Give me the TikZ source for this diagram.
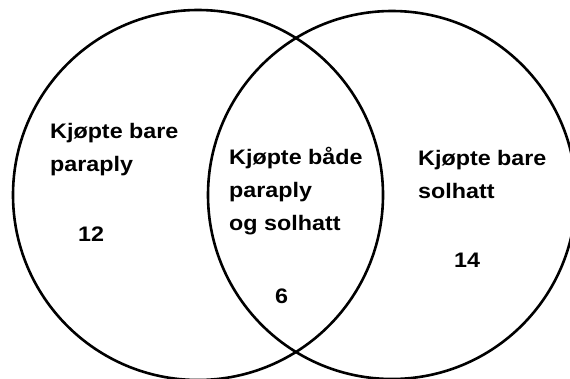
\documentclass[tikz,border=0pt]{standalone}
\usepackage{fontspec}
\setmainfont{Liberation Sans}[FakeStretch=1.11]
\begin{document}
\begin{tikzpicture}[x=1bp,y=-1bp,
  setring/.style={line width=2.6bp,draw=black},
  lbl/.style={anchor=base west,inner sep=0pt,font=\fontsize{21bp}{25bp}\selectfont\bfseries}]
\useasboundingbox (0,0) rectangle (570,378);
\clip (0,0) rectangle (570,378);
\fill[white] (0,0) rectangle (570,378);
% the two sets
\draw[setring] (198,195) circle[radius=185];
\draw[setring] (392,195) circle[radius=184];
% only umbrella
\node[lbl] (ua) at (50,138) {Kjøpte bare};
\node[lbl] (ub) at (50,171) {paraply};
\node[lbl] (un) at (78,241) {12};
% both
\node[lbl] (ba) at (229,164) {Kjøpte både};
\node[lbl] (bb) at (229,197) {paraply};
\node[lbl] (bc) at (229,230) {og solhatt};
\node[lbl] (bn) at (275,303) {6};
% only sun hat
\node[lbl] (sa) at (418,165) {Kjøpte bare};
\node[lbl] (sb) at (418,198) {solhatt};
\node[lbl] (sn) at (454,267) {14};
\end{tikzpicture}
\end{document}
